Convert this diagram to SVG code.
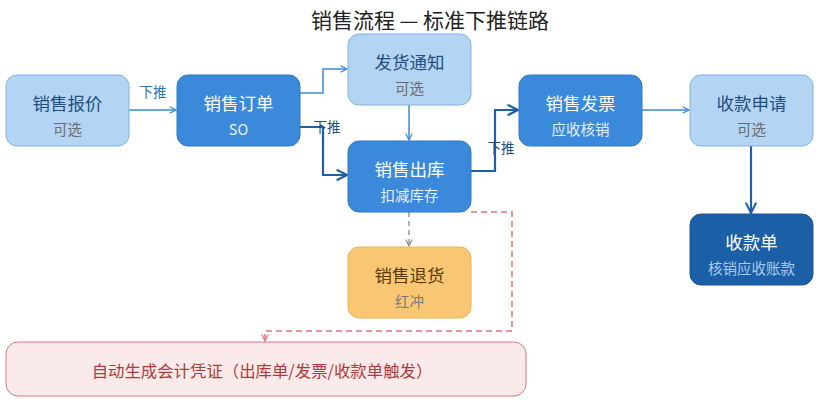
<svg xmlns="http://www.w3.org/2000/svg" width="840" height="408" viewBox="0 0 840 408">
<defs>
<style>
text{font-family:"Noto Sans CJK SC","Noto Sans",sans-serif;text-anchor:middle}
.title{font-size:21px;fill:#222}
.m{font-size:17.5px}
.s{font-size:14.5px}
.light rect{fill:#b4d4f3;stroke:#7fb2e8;stroke-width:1}
.light .m{fill:#1f4f80}
.light .s{fill:#6b6b6b}
.mid rect{fill:#3a89db;stroke:#2f78c6;stroke-width:1}
.mid .m{fill:#ffffff}
.mid .s{fill:#e6f0fb}
.dark rect{fill:#1b5fa7;stroke:#1a5699;stroke-width:1}
.dark .m{fill:#ffffff}
.dark .s{fill:#a9cbef}
.orange rect{fill:#f9c674;stroke:#f0b251;stroke-width:1}
.orange .m{fill:#5a3b08}
.orange .s{fill:#7a7a7a}
.note rect{fill:#fbeaea;stroke:#d27a7a;stroke-width:1}
.note text{fill:#b03a3a;font-size:16.4px}
.c{fill:none}
.thin{stroke:#3a89db;stroke-width:1.5}
.thick{stroke:#1f5fa8;stroke-width:2.2}
.gray{stroke:#8a8a8a;stroke-width:1.3;stroke-dasharray:5 4}
.red{stroke:#e07474;stroke-width:1.5;stroke-dasharray:6 4}
.lbl{font-size:13.5px;fill:#2a6fb8;text-anchor:middle}
.lbl2{font-size:13.5px;fill:#1f4f80;text-anchor:middle}
</style>
<marker id="a1" viewBox="0 0 10 10" refX="9" refY="5" markerWidth="8" markerHeight="8" markerUnits="userSpaceOnUse" orient="auto"><path d="M1,1 L9,5 L1,9" fill="none" stroke="#3a89db" stroke-width="1.5"/></marker>
<marker id="a2" viewBox="0 0 10 10" refX="9" refY="5" markerWidth="13" markerHeight="13" markerUnits="userSpaceOnUse" orient="auto"><path d="M1,1 L9,5 L1,9" fill="none" stroke="#1f5fa8" stroke-width="1.6"/></marker>
<marker id="a3" viewBox="0 0 10 10" refX="9" refY="5" markerWidth="8" markerHeight="8" markerUnits="userSpaceOnUse" orient="auto"><path d="M1,1 L9,5 L1,9" fill="none" stroke="#8a8a8a" stroke-width="1.5"/></marker>
<marker id="a4" viewBox="0 0 10 10" refX="9" refY="5" markerWidth="8" markerHeight="8" markerUnits="userSpaceOnUse" orient="auto"><path d="M1,1 L9,5 L1,9" fill="none" stroke="#e07474" stroke-width="1.5"/></marker>
</defs>
<rect width="840" height="408" fill="#ffffff"/>
<text class="title" x="430" y="28">销售流程 — 标准下推链路</text>

<g id="connectors">
<path class="c thin" d="M129,110 H176" marker-end="url(#a1)"/>
<path class="c thin" d="M300,93 H323 V69 H347" marker-end="url(#a1)"/>
<path class="c thick" d="M300,127 H323 V175 H347" marker-end="url(#a2)"/>
<path class="c thin" d="M409,105 V140" stroke-width="1" marker-end="url(#a1)"/>
<path class="c thick" d="M471,171 H495 V110 H518" marker-end="url(#a2)"/>
<path class="c thin" d="M642,110 H689" marker-end="url(#a1)"/>
<path class="c thick" d="M751,146 V213" marker-end="url(#a2)"/>
<path class="c gray" d="M409,212 V246" marker-end="url(#a3)"/>
<path class="c red" d="M471,212 H512 V331 H265 V341" marker-end="url(#a4)"/>
<text class="lbl" x="153" y="97">下推</text>
<text class="lbl2" x="327" y="132">下推</text>
<text class="lbl2" x="501" y="153">下推</text>
</g>

<g id="n-quote" class="light"><rect x="6" y="75" width="123" height="71" rx="11"/><text class="m" x="67.5" y="110">销售报价</text><text class="s" x="67.5" y="135">可选</text></g>
<g id="n-order" class="mid"><rect x="177" y="75" width="123" height="71" rx="11"/><text class="m" x="238.5" y="110">销售订单</text><text class="s" x="238.5" y="135">SO</text></g>
<g id="n-notice" class="light"><rect x="348" y="34" width="123" height="71" rx="11"/><text class="m" x="409.5" y="69">发货通知</text><text class="s" x="409.5" y="94">可选</text></g>
<g id="n-out" class="mid"><rect x="348" y="141" width="123" height="71" rx="11"/><text class="m" x="409.5" y="176">销售出库</text><text class="s" x="409.5" y="201">扣减库存</text></g>
<g id="n-return" class="orange"><rect x="348" y="247" width="123" height="71" rx="11"/><text class="m" x="409.5" y="282">销售退货</text><text class="s" x="409.5" y="307">红冲</text></g>
<g id="n-invoice" class="mid"><rect x="519" y="75" width="123" height="71" rx="11"/><text class="m" x="580.5" y="110">销售发票</text><text class="s" x="580.5" y="135">应收核销</text></g>
<g id="n-apply" class="light"><rect x="690" y="75" width="123" height="71" rx="11"/><text class="m" x="751.5" y="110">收款申请</text><text class="s" x="751.5" y="135">可选</text></g>
<g id="n-receipt" class="dark"><rect x="690" y="214" width="123" height="71" rx="11"/><text class="m" x="751.5" y="249">收款单</text><text class="s" x="751.5" y="274">核销应收账款</text></g>
<g id="n-voucher" class="note"><rect x="6" y="342" width="520" height="54" rx="12"/><text x="262" y="377">自动生成会计凭证（出库单/发票/收款单触发）</text></g>
</svg>
